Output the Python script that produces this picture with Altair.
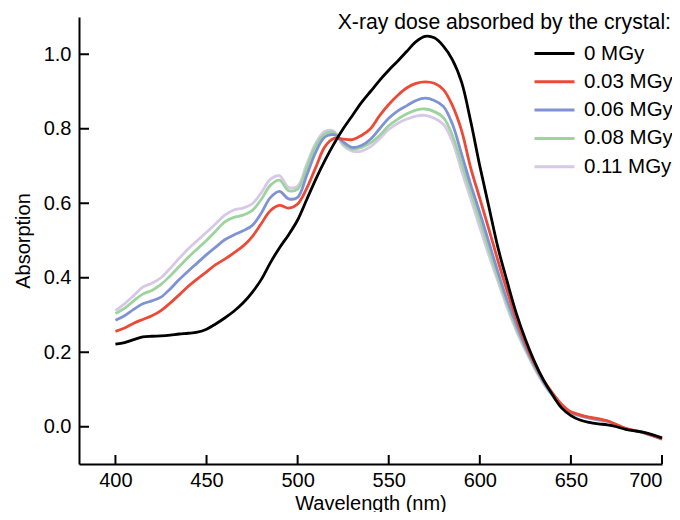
import altair as alt
import pandas as pd

FONT = "Liberation Sans, Arial, Helvetica, sans-serif"

wavelength = [400, 405, 410, 415, 420, 425, 430, 435, 440, 445,
              450, 455, 460, 465, 470, 475, 480, 485, 490, 495,
              500, 505, 510, 515, 520, 525, 530, 535, 540, 545,
              550, 555, 560, 565, 570, 575, 580, 585, 590, 595,
              600, 605, 610, 615, 620, 625, 630, 635, 640, 645,
              650, 655, 660, 665, 670, 675, 680, 685, 690, 695, 700]

dose_labels = ["0 MGy", "0.03 MGy", "0.06 MGy", "0.08 MGy", "0.11 MGy"]
dose_colors = ["#000000", "#ec4a36", "#7f92d6", "#9dd39c", "#d8c8e8"]
legend_title = "X-ray dose absorbed by the crystal:"

abs_0 = [.222, .226, .234, .241, .243, .244, .246, .249, .251, .254,
         .262, .276, .292, .310, .332, .360, .395, .440, .480, .515,
         .555, .610, .665, .715, .760, .800, .835, .870, .900, .930,
         .957, .982, 1.008, 1.034, 1.048, 1.044, 1.022, .985, .925, .820,
         .700, .590, .480, .390, .305, .235, .175, .125, .085, .050,
         .030, .018, .012, .008, .005, .000, -.007, -.011, -.015, -.022, -.030]

abs_003 = [.256, .265, .278, .288, .298, .312, .332, .354, .377, .397,
           .416, .435, .450, .467, .485, .510, .545, .580, .594, .587,
           .598, .640, .697, .752, .774, .772, .771, .782, .800, .835,
           .865, .890, .910, .922, .926, .922, .905, .862, .795, .695,
           .613, .530, .445, .365, .290, .225, .170, .125, .090, .060,
           .040, .032, .026, .022, .016, .006, -.004, -.010, -.016, -.024, -.033]

abs_006 = [.286, .298, .315, .330, .338, .348, .370, .395, .418, .440,
           .462, .482, .502, .515, .526, .540, .573, .615, .632, .612,
           .616, .675, .738, .778, .784, .765, .750, .755, .772, .800,
           .828, .848, .862, .876, .882, .876, .860, .812, .732, .650,
           .575, .495, .415, .340, .275, .215, .165, .120, .085, .057,
           .038, .030, .024, .019, .015, .005, -.005, -.010, -.016, -.024, -.033]

abs_008 = [.304, .318, .338, .356, .366, .382, .405, .430, .455, .478,
           .500, .525, .550, .562, .568, .580, .610, .648, .662, .634,
           .638, .695, .755, .787, .790, .760, .745, .750, .762, .782,
           .808, .826, .840, .850, .853, .846, .830, .782, .707, .630,
           .555, .475, .400, .330, .265, .210, .160, .118, .083, .055,
           .037, .030, .024, .019, .015, .005, -.005, -.010, -.016, -.024, -.033]

abs_011 = [.312, .330, .352, .375, .385, .400, .425, .452, .478, .500,
           .522, .545, .568, .582, .587, .598, .628, .664, .674, .643,
           .646, .705, .762, .793, .793, .755, .740, .740, .752, .773,
           .798, .815, .826, .834, .836, .828, .812, .765, .687, .612,
           .535, .460, .390, .320, .258, .205, .157, .115, .082, .054,
           .036, .029, .023, .018, .014, .004, -.006, -.011, -.017, -.025, -.034]

x_ticks = [400, 450, 500, 550, 600, 650, 700]
y_ticks = [0.0, 0.2, 0.4, 0.6, 0.8, 1.0]

series = [abs_0, abs_003, abs_006, abs_008, abs_011]
rows = []
# draw lightest first so that black ends on top
for idx in reversed(range(len(series))):
    for w, a in zip(wavelength, series[idx]):
        rows.append({"wavelength": w, "absorption": a, "dose": dose_labels[idx], "k": idx})
df = pd.DataFrame(rows)

W, H = 583, 447

xscale = alt.Scale(domain=[380, 700], nice=False, zero=False)
yscale = alt.Scale(domain=[-0.1, 1.1], nice=False, zero=False)

xaxis = alt.Axis(title="Wavelength (nm)", values=x_ticks, tickSize=0,
                 labelPadding=6, titlePadding=3, grid=False)
yaxis = alt.Axis(title="Absorption", values=y_ticks, format=".1f", tickSize=0,
                 labelPadding=8, titlePadding=10, grid=False)

lines = alt.Chart(df).mark_line(strokeWidth=2.8, interpolate="catmull-rom").encode(
    x=alt.X("wavelength:Q", scale=xscale, axis=xaxis),
    y=alt.Y("absorption:Q", scale=yscale, axis=yaxis),
    color=alt.Color("dose:N",
                    scale=alt.Scale(domain=dose_labels, range=dose_colors),
                    legend=alt.Legend(title=None, orient="none", legendX=464, legendY=25,
                                      symbolType="M-2,0H2", symbolSize=400,
                                      symbolStrokeWidth=3, symbolFillColor="transparent",
                                      rowPadding=6.3,
                                      labelOffset=18, labelFontSize=20.5, labelFont=FONT,
                                      labelColor="black", padding=0)),
    detail="k:N",
)

xtick_layer = alt.Chart(pd.DataFrame({"v": x_ticks})).mark_rule(
    color="black", strokeWidth=2).encode(
    x=alt.X("v:Q", scale=xscale, axis=xaxis),
    y=alt.value(H), y2=alt.value(H - 9),
)

ytick_layer = alt.Chart(pd.DataFrame({"v": y_ticks})).mark_rule(
    color="black", strokeWidth=2).encode(
    y=alt.Y("v:Q", scale=yscale, axis=yaxis),
    x=alt.value(0), x2=alt.value(10),
)

title_layer = alt.Chart(pd.DataFrame({"t": [legend_title]})).mark_text(
    align="right", baseline="alphabetic", fontSize=21.2, font=FONT, color="black").encode(
    text="t:N", x=alt.value(592), y=alt.value(11.5),
)

chart = alt.layer(lines, xtick_layer, ytick_layer, title_layer).properties(
    width=W, height=H,
    autosize=alt.AutoSizeParams(type="none"),
    padding={"left": 71, "top": 9, "right": 10, "bottom": 48},
).configure_view(stroke=None).configure_axis(
    domainColor="black", domainWidth=2, labelFont=FONT, titleFont=FONT,
    labelFontSize=20, titleFontSize=20, labelColor="black", titleColor="black",
    titleFontWeight="normal",
)

chart.save("out.html", embed_options={"renderer": "svg", "actions": False})
